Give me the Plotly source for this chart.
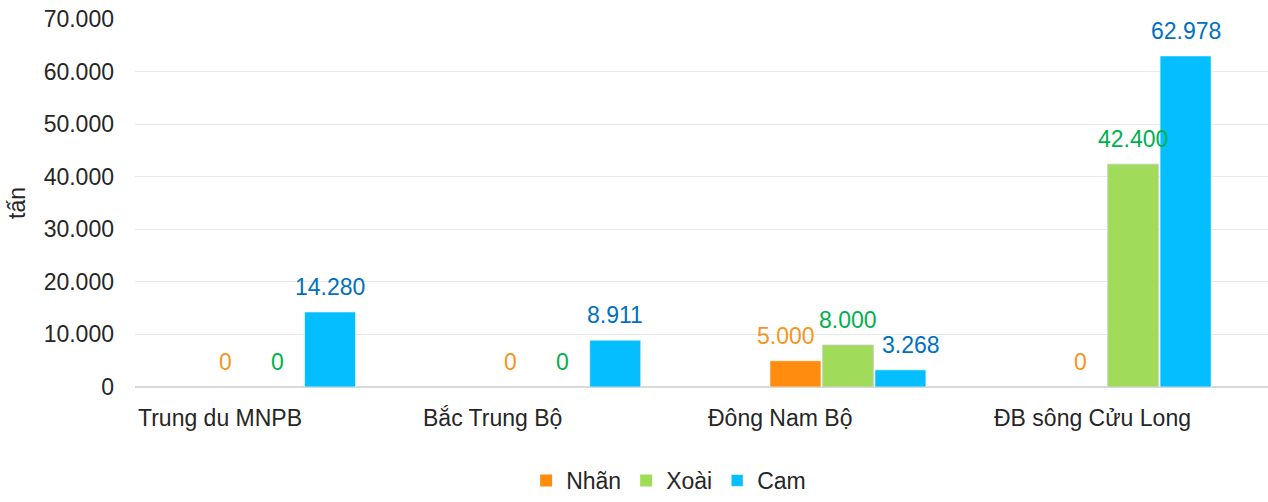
import plotly.graph_objects as go

# Regions and fruit output (tấn)
regions = ["Trung du MNPB", "Bắc Trung Bộ", "Đông Nam Bộ", "ĐB sông Cửu Long"]
nhan = [0, 0, 5000, 0]
xoai = [0, 0, 8000, 42400]
cam = [14280, 8911, 3268, 62978]
y_ticks = [0, 10000, 20000, 30000, 40000, 50000, 60000, 70000]
y_tick_text = ["0", "10.000", "20.000", "30.000", "40.000", "50.000", "60.000", "70.000"]

FONT = "Liberation Sans, Arial, sans-serif"
FS = 23
positions = list(range(len(regions)))
bar_w = 0.179
step = 0.184

series = [
    ("Nhãn", nhan, "#FF8C0F", "#F7941D", -step, "rgba(255,255,255,0.6)"),
    ("Xoài", xoai, "#A0DC5A", "#00B050", 0.0, "#D4D4D4"),
    ("Cam", cam, "#05BEFF", "#0070C0", step, "rgba(255,255,255,0.6)"),
]
# small sideways nudges so crowded labels in a group do not collide
label_nudge = {("Nhãn", 2): -9, ("Cam", 2): 11}


def fmt(v):
    return f"{v:,}".replace(",", ".")


fig = go.Figure()
annotations = []
for name, vals, color, label_color, shift, edge in series:
    fig.add_trace(go.Bar(
        name=name,
        x=positions,
        y=vals,
        width=bar_w,
        offset=shift - bar_w / 2,
        marker=dict(color=color,
                    line=dict(color=edge, width=[1 if v > 0 else 0 for v in vals])),
        hoverinfo="skip",
    ))
    for p, v in zip(positions, vals):
        annotations.append(dict(
            x=p + shift, y=v, xref="x", yref="y",
            text=fmt(v), showarrow=False,
            yanchor="middle", yshift=25, xshift=label_nudge.get((name, p), 0),
            font=dict(family=FONT, size=FS, color=label_color),
        ))

# Category names, left-aligned at the start of each group
for p, name in zip(positions, regions):
    annotations.append(dict(
        x=p - 0.5, y=0, xref="x", yref="paper",
        text=name, showarrow=False,
        xanchor="left", yanchor="middle", xshift=1, yshift=-31,
        font=dict(family=FONT, size=FS, color="#262626"),
    ))

fig.update_layout(
    width=1268, height=502,
    margin=dict(l=135, r=0, t=19, b=115, autoexpand=False),
    paper_bgcolor="white", plot_bgcolor="white",
    barmode="overlay",
    font=dict(family=FONT, size=FS, color="#262626"),
    annotations=annotations,
    showlegend=True,
    legend=dict(
        orientation="h", x=0.471, xanchor="center",
        yref="container", y=-0.02, yanchor="bottom",
        font=dict(family=FONT, size=FS, color="#262626"),
        itemwidth=30, tracegroupgap=0,
        bgcolor="rgba(0,0,0,0)",
    ),
    xaxis=dict(
        range=[-0.5, 3.473], showticklabels=False, showgrid=False,
        zeroline=False, showline=False, fixedrange=True,
    ),
    yaxis=dict(
        range=[0, 70000], tickvals=y_ticks, ticktext=y_tick_text,
        showgrid=True, gridcolor="#EAEAEA", gridwidth=1,
        zeroline=True, zerolinecolor="#D9D9D9", zerolinewidth=2,
        showline=False, ticks="", ticklabelstandoff=20,
        tickfont=dict(family=FONT, size=FS, color="#262626"),
        title=dict(text="tấn", font=dict(family=FONT, size=FS, color="#262626"), standoff=11),
        fixedrange=True,
    ),
)

fig.write_html("out.html")
